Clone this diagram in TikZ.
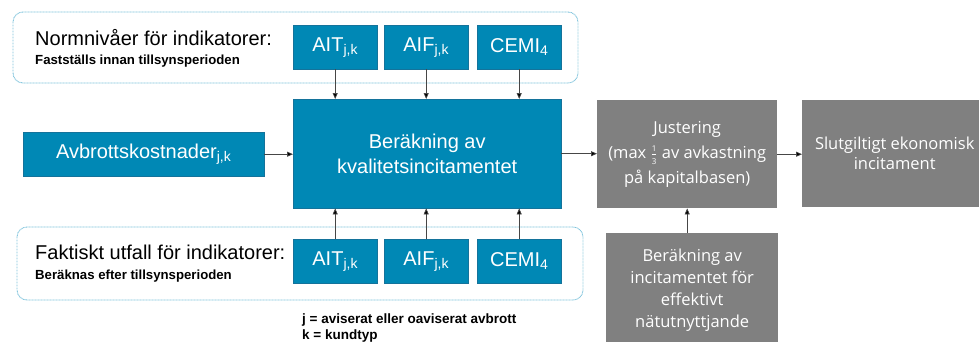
\documentclass[tikz,border=0pt]{standalone}
\usepackage{fontspec}
\setmainfont{Liberation Sans}
\newfontfamily\grayfont{Open Sans}
\usetikzlibrary{arrows.meta}
\definecolor{boxblue}{RGB}{0,136,181}
\definecolor{boxblueedge}{RGB}{20,115,155}
\definecolor{boxgray}{RGB}{128,128,128}
\definecolor{dotblue}{RGB}{125,195,220}
\definecolor{linegray}{RGB}{70,70,70}
\newcommand{\onethird}{\ensuremath{\frac{\mbox{\fontsize{8}{8}\selectfont 1}}{\mbox{\fontsize{8}{8}\selectfont 3}}}}
\tikzset{
  bluebox/.style={draw=boxblueedge, line width=0.4pt, fill=boxblue, text=white, inner sep=0pt,
    anchor=north west, align=center, font=\fontsize{20}{25}\selectfont},
  graybox/.style={fill=boxgray, text=white, inner sep=0pt, anchor=north west, align=center},
  groupbox/.style={draw=dotblue, line width=0.9pt, dash pattern=on 0.9pt off 0.6pt, rounded corners=10pt},
  arr/.style={draw=linegray, line width=0.7pt, -{Triangle[length=6pt,width=5pt,fill=black]}},
  heading/.style={anchor=base west, inner sep=0pt, font=\fontsize{20}{24}\selectfont},
  subhead/.style={anchor=base west, inner sep=0pt, font=\bfseries\fontsize{13.2}{16}\selectfont},
  note/.style={anchor=base west, inner sep=0pt, font=\bfseries\fontsize{13.5}{16}\selectfont}
}
\begin{document}
\begin{tikzpicture}[x=1pt,y=-1pt]
\clip (0,0) rectangle (979,341);
\fill[white] (0,0) rectangle (979,341);
% group boxes
\draw[groupbox] (13,12) rectangle (578,83);
\draw[groupbox] (17,227) rectangle (583,300);
\node[heading] (h1) at (35,45) {Normnivåer för indikatorer:};
\node[subhead] (s1) at (35,64) {Fastställs innan tillsynsperioden};
\node[heading] (h2) at (35,259) {Faktiskt utfall för indikatorer:};
\node[subhead] (s2) at (35,279) {Beräknas efter tillsynsperioden};
% top indicators
\node[bluebox, minimum width=84pt, minimum height=44pt] (ait1) at (293,25) {AIT\textsubscript{j,k}};
\node[bluebox, minimum width=84pt, minimum height=44pt] (aif1) at (384,25) {AIF\textsubscript{j,k}};
\node[bluebox, minimum width=84pt, minimum height=44pt] (cemi1) at (477,25) {CEMI\textsubscript{4}};
% main
\node[bluebox, minimum width=268pt, minimum height=109pt] (main) at (293,99) {Beräkning av\\kvalitetsincitamentet};
\node[bluebox, minimum width=241pt, minimum height=44pt] (avb) at (23,132) {Avbrottskostnader\textsubscript{j,k}};
% bottom indicators
\node[bluebox, minimum width=84pt, minimum height=44pt] (ait2) at (293,239) {AIT\textsubscript{j,k}};
\node[bluebox, minimum width=84pt, minimum height=44pt] (aif2) at (384,239) {AIF\textsubscript{j,k}};
\node[bluebox, minimum width=84pt, minimum height=44pt] (cemi2) at (477,239) {CEMI\textsubscript{4}};
% gray boxes
\node[graybox, minimum width=180pt, minimum height=108pt, font=\grayfont\fontsize{16.5}{25}\selectfont] (just) at (597,100) {Justering\\(max \onethird{} av avkastning\\på kapitalbasen)};
\node[graybox, minimum width=185pt, minimum height=107pt, font=\grayfont\fontsize{16.5}{20}\selectfont] (slut) at (802,100) {Slutgiltigt ekonomisk\\incitament};
\node[graybox, minimum width=172pt, minimum height=114pt, font=\grayfont\fontsize{16.5}{21.7}\selectfont] (low) at (606,233) {Beräkning av\\incitamentet för\\effektivt\\nätutnyttjande};
% footnote
\node[note] (n1) at (302,323) {j = aviserat eller oaviserat avbrott};
\node[note] (n2) at (302,339) {k = kundtyp};
% connectors
\draw[arr] (ait1.south) -- (ait1.south |- main.north);
\draw[arr] (aif1.south) -- (aif1.south |- main.north);
\draw[arr] (cemi1.south) -- (cemi1.south |- main.north);
\draw[arr] (ait2.north) -- (ait2.north |- main.south);
\draw[arr] (aif2.north) -- (aif2.north |- main.south);
\draw[arr] (cemi2.north) -- (cemi2.north |- main.south);
\draw[arr] (avb.east) -- (avb.east -| main.west);
\draw[arr] (main.east) -- (main.east -| just.west);
\draw[arr] (just.east) -- (just.east -| slut.west);
\draw[arr] (low.north -| just.south) -- (just.south);
\end{tikzpicture}
\end{document}
